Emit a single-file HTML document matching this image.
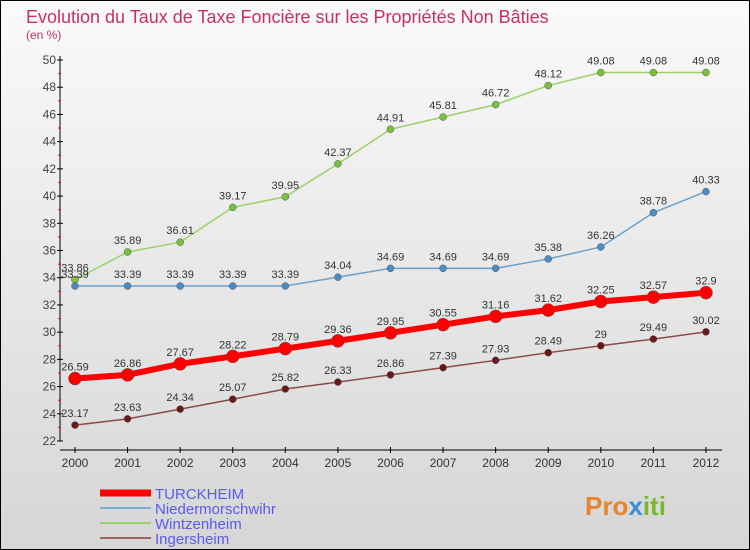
<!DOCTYPE html>
<html><head><meta charset="utf-8"><style>
body{margin:0}
#c{width:750px;height:550px;position:relative;box-sizing:border-box;border:1px solid #000;background:linear-gradient(#fafafa,#d6d6d6);font-family:"Liberation Sans",sans-serif;overflow:hidden}
</style></head><body>
<div id="c">
<svg id="s" width="750" height="550" style="position:absolute;left:-1px;top:-1px">
<text x="26" y="23" font-size="18" fill="#c8315e">Evolution du Taux de Taxe Foncière sur les Propriétés Non Bâties</text>
<text x="26" y="39" font-size="12" fill="#c8315e">(en %)</text>
<g id="ax"></g><g id="pl"></g>
<text x="585" y="515" font-size="26" font-weight="bold"><tspan fill="#e8842a">Pro</tspan><tspan fill="#3a8fd6">x</tspan><tspan fill="#7cb82f">iti</tspan></text>
</svg>
</div>
<script>
const years=[2000,2001,2002,2003,2004,2005,2006,2007,2008,2009,2010,2011,2012];
const turckheim=[26.59,26.86,27.67,28.22,28.79,29.36,29.95,30.55,31.16,31.62,32.25,32.57,32.9];
const nieder=[33.39,33.39,33.39,33.39,33.39,34.04,34.69,34.69,34.69,35.38,36.26,38.78,40.33];
const wintz=[33.86,35.89,36.61,39.17,39.95,42.37,44.91,45.81,46.72,48.12,49.08,49.08,49.08];
const inger=[23.17,23.63,24.34,25.07,25.82,26.33,26.86,27.39,27.93,28.49,29,29.49,30.02];
const yTicks=[22,24,26,28,30,32,34,36,38,40,42,44,46,48,50];
const NS="http://www.w3.org/2000/svg";
const X=i=>75+i*52.58, Y=v=>441-(v-22)*13.607;
function mk(t,a,p){const e=document.createElementNS(NS,t);for(const k in a)e.setAttribute(k,a[k]);p.appendChild(e);return e;}
const ax=document.getElementById('ax'),pl=document.getElementById('pl');
const ya=mk('line',{x1:60,y1:56,x2:60,y2:441,stroke:'#000'},ax);


const xa=mk('line',{x1:60,y1:450,x2:722,y2:450,stroke:'#000'},ax);


yTicks.forEach(v=>{mk('line',{x1:57,x2:63,y1:Y(v),y2:Y(v),stroke:'#000'},ax);
 if(v<50)mk('line',{x1:58,x2:61,y1:Y(v+1),y2:Y(v+1),stroke:'#f00'},ax);
 const t=mk('text',{x:56,y:Y(v)+4,'text-anchor':'end','font-size':12,fill:'#444'},ax);t.textContent=v;
 
 });
years.forEach((y,i)=>{mk('line',{x1:X(i),x2:X(i),y1:447,y2:453,stroke:'#000'},ax);
 const t=mk('text',{x:X(i),y:467,'text-anchor':'middle','font-size':12,fill:'#333'},ax);t.textContent=y;
 
 });
const series=[[wintz,'#99d26a','#77c23a',1.5,3.5,'wintzenheim'],[nieder,'#6aa0cc','#4a8cc4',1.5,3.5,'niedermorschwihr'],[inger,'#8a4a4a','#6a1818',1.5,3.5,'ingersheim'],[turckheim,'#f00','#f00',6,6.5,'turckheim']];
series.forEach(([d,lc,pc,w,r,n])=>{const g=mk('g',{},pl);
 
 
 mk('polyline',{points:d.map((v,i)=>X(i)+','+Y(v)).join(' '),fill:'none',stroke:lc,'stroke-width':w},g);
 d.forEach((v,i)=>{const c=mk('circle',{cx:X(i),cy:Y(v),r:r,fill:pc,stroke:'#555','stroke-width':0.5},g);
  
  
  const t=mk('text',{x:X(i),y:Y(v)-8,'text-anchor':'middle','font-size':11,fill:'#333'},g);t.textContent=v;
  
  });});
const leg=[['TURCKHEIM','#f00',7],['Niedermorschwihr','#7aaed2',2],['Wintzenheim','#99d26a',2],['Ingersheim','#9a6464',2]];
leg.forEach(([n,c,w],i)=>{const y=493+i*15;const g=mk('g',{},pl);
 
 
 mk('line',{x1:100,x2:151,y1:y,y2:y,stroke:c,'stroke-width':w},g);
 const t=mk('text',{x:155,y:y+6,'font-size':15,fill:'#5a5af0'},g);t.textContent=n;});
</script>
</body></html>
